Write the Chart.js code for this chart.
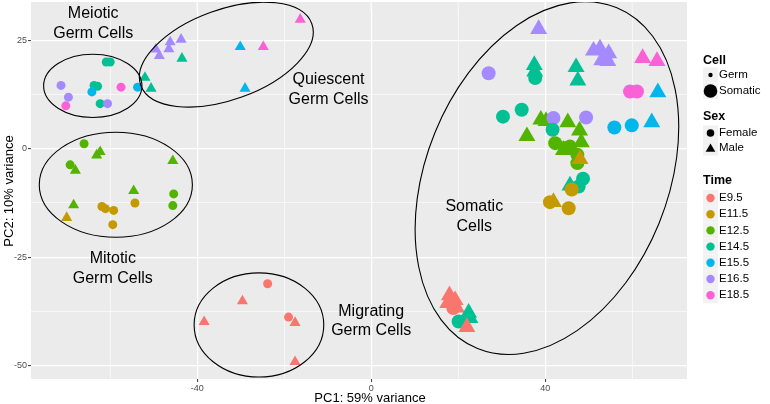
<!DOCTYPE html>
<html>
<head>
<meta charset="utf-8">
<script src="https://cdn.jsdelivr.net/npm/chart.js@4"></script>
<style>
  html, body { margin: 0; padding: 0; background: #fff; }
  #wrap { width: 770px; height: 404px; position: relative; }
</style>
</head>
<body>
<div id="wrap"><canvas id="chart"></canvas></div>
<script>
// PCA of germ / somatic samples.
const FONT = '"Liberation Sans", Arial, Helvetica, sans-serif';

const pc1 = [
  -71.3, -69.6, -70.2, -60.9, -60.0, -63.7, -62.9, -64.2, -62.3, -60.6, -57.5, -53.7,
  -49.5, -48.7, -46.2, -46.5, -43.7, -43.5, -52.0, -50.6, -30.1, -24.8, -16.3, -29.0,
  -66.0, -63.1, -62.3, -69.2, -68.0, -45.6, -54.6, -45.4, -45.6, -68.4,
  -70.0, -61.9, -61.1, -59.2, -54.3, -59.4,
  -23.8, -29.6, -38.4, -19.0, -17.5, -17.5,
  38.5, 51.1, 52.6, 54.6, 53.0, 54.4, 62.4, 65.7, 27.0, 37.5, 37.6, 37.7, 47.1, 47.5,
  59.5, 61.1, 65.9, 30.3, 34.6, 39.0, 40.2, 41.9, 35.8, 41.7, 45.2, 49.4, 47.9, 48.3,
  42.3, 44.2, 45.7, 44.6, 47.4, 47.4, 55.9, 59.9, 64.5, 48.7, 47.7, 45.7,
  46.1, 41.9, 41.1, 45.4, 48.0,
  18.0, 19.3, 17.6, 19.6, 18.9, 22.4, 22.7, 20.1, 22.0
];
const pc2 = [
  14.6, 11.9, 9.9, 20.0, 20.0, 14.6, 14.4, 13.1, 10.4, 10.4, 14.2, 14.2,
  22.9, 21.4, 24.6, 23.0, 25.2, 20.8, 16.4, 13.9, 23.5, 23.5, 29.8, 13.9,
  1.15, -1.5, -0.7, -3.7, -5.0, -2.8, -9.7, -10.4, -13.1, -13.0,
  -15.9, -13.3, -13.8, -14.2, -12.5, -17.5,
  -31.1, -35.1, -39.9, -38.8, -40.1, -49.1,
  27.6, 22.6, 23.1, 22.0, 20.4, 20.2, 20.9, 20.2, 17.4, 19.3, 17.8, 16.3, 18.8, 15.7,
  13.2, 13.2, 13.0, 7.4, 9.0, 6.7, 6.4, 7.1, 2.9, 4.4, 6.1, 7.2, 4.2, 1.5,
  1.3, -0.3, 0.5, 0.2, -1.4, -3.3, 4.9, 5.4, 6.1, -6.9, -8.7, -8.5,
  -9.4, -12.3, -12.3, -13.7, -2.4,
  -33.8, -34.9, -35.6, -36.6, -36.7, -37.8, -39.0, -39.8, -41.1
];
const time = [
  'E16.5', 'E16.5', 'E18.5', 'E14.5', 'E14.5', 'E14.5', 'E14.5', 'E15.5', 'E14.5', 'E16.5', 'E18.5', 'E15.5',
  'E16.5', 'E16.5', 'E16.5', 'E16.5', 'E16.5', 'E14.5', 'E14.5', 'E14.5', 'E15.5', 'E18.5', 'E18.5', 'E15.5',
  'E12.5', 'E12.5', 'E12.5', 'E12.5', 'E12.5', 'E12.5', 'E12.5', 'E12.5', 'E12.5', 'E12.5',
  'E11.5', 'E11.5', 'E11.5', 'E11.5', 'E11.5', 'E11.5',
  'E9.5', 'E9.5', 'E9.5', 'E9.5', 'E9.5', 'E9.5',
  'E16.5', 'E16.5', 'E16.5', 'E16.5', 'E16.5', 'E16.5', 'E18.5', 'E18.5', 'E16.5', 'E14.5', 'E14.5', 'E14.5', 'E14.5', 'E14.5',
  'E18.5', 'E18.5', 'E15.5', 'E14.5', 'E14.5', 'E12.5', 'E12.5', 'E16.5', 'E12.5', 'E14.5', 'E12.5', 'E16.5', 'E12.5', 'E12.5',
  'E12.5', 'E12.5', 'E12.5', 'E12.5', 'E12.5', 'E12.5', 'E15.5', 'E15.5', 'E15.5', 'E14.5', 'E14.5', 'E14.5',
  'E11.5', 'E11.5', 'E11.5', 'E11.5', 'E11.5',
  'E9.5', 'E9.5', 'E9.5', 'E9.5', 'E9.5', 'E14.5', 'E14.5', 'E14.5', 'E9.5'
];
const sex = [
  'F', 'F', 'F', 'F', 'F', 'F', 'F', 'F', 'F', 'F', 'F', 'F',
  'M', 'M', 'M', 'M', 'M', 'M', 'M', 'M', 'M', 'M', 'M', 'M',
  'F', 'M', 'M', 'F', 'M', 'M', 'M', 'F', 'F', 'M',
  'M', 'F', 'F', 'F', 'F', 'F',
  'F', 'M', 'M', 'F', 'M', 'M',
  'M', 'M', 'M', 'M', 'M', 'M', 'M', 'M', 'F', 'M', 'M', 'F', 'M', 'M',
  'F', 'F', 'M', 'F', 'F', 'M', 'M', 'F', 'M', 'F', 'M', 'F', 'M', 'M',
  'F', 'M', 'F', 'F', 'F', 'F', 'F', 'F', 'M', 'F', 'F', 'M',
  'F', 'M', 'F', 'F', 'M',
  'M', 'M', 'M', 'M', 'F', 'M', 'M', 'F', 'M'
];
// first 46 samples are germ cells, the rest somatic
const cell = pc1.map((_, i) => (i < 46 ? 'Germ' : 'Somatic'));

const timeLevels = ['E9.5', 'E11.5', 'E12.5', 'E14.5', 'E15.5', 'E16.5', 'E18.5'];
const xTicks = [-40, 0, 40];
const xMinor = [-60, -20, 20, 60];
const yTicks = [-50, -25, 0, 25];
const yMinor = [-37.5, -12.5, 12.5];

// cluster outlines (data units) and their labels
const groupNames = [['Meiotic', 'Germ Cells'], ['Quiescent', 'Germ Cells'], ['Mitotic', 'Germ Cells'], ['Migrating', 'Germ Cells'], ['Somatic', 'Cells']];
const ellCx = [-64.0, -33.3, -58.7, -25.8, 40.4];
const ellCy = [14.5, 21.7, -8.3, -40.6, -6.75];
const ellRx = [11.3, 20.9, 17.6, 14.9, 42.4];
const ellRy = [7.3, 10.4, 12.1, 12.0, 27.8];
const ellAngle = [0, 19.9, 0, 0, 67.9];
const labelX = [-63.9, -9.8, -59.4, 0, 23.7];
const labelY = [28.8, 13.7, -27.6, -39.7, -15.7];

const TIME_COLORS = {
  'E9.5':  '#F8766D',
  'E11.5': '#C49A00',
  'E12.5': '#53B400',
  'E14.5': '#00C094',
  'E15.5': '#00B6EB',
  'E16.5': '#A58AFF',
  'E18.5': '#FB61D7',
};
const RADIUS = { Germ: { F: 4.5, M: 6.4 }, Somatic: { F: 7, M: 9.8 } };
const PANEL_TOP = 2;         // grey panel starts here (px)
const Y_PX_PER_UNIT = 4.339; // vertical scale of the reference

const points = pc1.map((x, i) => ({ x, y: pc2[i] }));
const isMajor = (axisTicks, v) => axisTicks.includes(v);

function triangle(ctx, x, y, r) {
  ctx.beginPath();
  for (let k = 0; k < 3; k++) {
    const a = k * 2 * Math.PI / 3;
    const px = x + Math.sin(a) * r, py = y - Math.cos(a) * r;
    if (k === 0) ctx.moveTo(px, py); else ctx.lineTo(px, py);
  }
  ctx.closePath();
  ctx.fill();
}
function dot(ctx, x, y, r) {
  ctx.beginPath();
  ctx.arc(x, y, r, 0, Math.PI * 2);
  ctx.fill();
}

const panelPlugin = {
  id: 'panel',
  beforeDraw(chart) {
    const { ctx, chartArea: ca } = chart;
    const top = Math.min(PANEL_TOP, ca.top);
    ctx.save();
    ctx.fillStyle = '#EBEBEB';
    ctx.fillRect(ca.left, top, ca.right - ca.left, ca.bottom - top);
    // chart.js keeps a few px above the area; continue vertical grid lines up to the panel top
    ctx.strokeStyle = '#FFFFFF';
    [...xMinor, ...xTicks].forEach(v => {
      const x = chart.scales.x.getPixelForValue(v);
      ctx.lineWidth = isMajor(xTicks, v) ? 1.2 : 0.6;
      ctx.beginPath();
      ctx.moveTo(x, top);
      ctx.lineTo(x, ca.top + 1);
      ctx.stroke();
    });
    ctx.restore();
  },
  afterDatasetsDraw(chart) {
    const { ctx, chartArea: ca } = chart;
    const xs = chart.scales.x, ys = chart.scales.y;
    const sx = xs.getPixelForValue(1) - xs.getPixelForValue(0);
    const sy = ys.getPixelForValue(0) - ys.getPixelForValue(1);
    const top = Math.min(PANEL_TOP, ca.top);
    ctx.save();
    ctx.beginPath();
    ctx.rect(ca.left, top, ca.right - ca.left, ca.bottom - top);
    ctx.clip();
    ctx.strokeStyle = '#000';
    ctx.lineWidth = 1.1;
    ellCx.forEach((cx, i) => {
      ctx.save();
      ctx.translate(xs.getPixelForValue(cx), ys.getPixelForValue(ellCy[i]));
      ctx.scale(sx, -sy);
      ctx.rotate(ellAngle[i] * Math.PI / 180);
      ctx.beginPath();
      ctx.ellipse(0, 0, ellRx[i], ellRy[i], 0, 0, Math.PI * 2);
      ctx.restore();
      ctx.stroke();
    });
    ctx.fillStyle = '#000';
    ctx.font = '16px ' + FONT;
    ctx.textAlign = 'center';
    ctx.textBaseline = 'middle';
    groupNames.forEach((lines, i) => {
      const px = xs.getPixelForValue(labelX[i]);
      const py = ys.getPixelForValue(labelY[i]);
      ctx.fillText(lines[0], px, py - 9.8);
      ctx.fillText(lines[1], px, py + 9.8);
    });
    ctx.restore();
  },
  afterDraw(chart) {
    const ctx = chart.ctx;
    ctx.save();
    // axis titles
    ctx.fillStyle = '#000';
    ctx.font = '13px ' + FONT;
    ctx.textAlign = 'center';
    ctx.textBaseline = 'middle';
    ctx.fillText('PC1: 59% variance', 370, 398);
    ctx.save();
    ctx.translate(9, 191);
    ctx.rotate(-Math.PI / 2);
    ctx.fillText('PC2: 10% variance', 0, 0);
    ctx.restore();

    // legends
    const keyX = 703, keyW = 15, textX = 719, cxKey = keyX + keyW / 2;
    const title = (t, y) => {
      ctx.fillStyle = '#000';
      ctx.font = 'bold 12.5px ' + FONT;
      ctx.textAlign = 'left';
      ctx.fillText(t, keyX, y);
    };
    const row = (label, y, h, draw) => {
      ctx.fillStyle = '#F2F2F2';
      ctx.fillRect(keyX, y - h / 2, keyW, h);
      draw(y);
      ctx.fillStyle = '#000';
      ctx.font = '11.5px ' + FONT;
      ctx.textAlign = 'left';
      ctx.fillText(label, textX, y);
    };
    title('Cell', 61);
    row('Germ', 75, 15, y => { ctx.fillStyle = '#000'; dot(ctx, cxKey, y, 2.2); });
    row('Somatic', 91, 16, y => { ctx.fillStyle = '#000'; dot(ctx, cxKey, y, 6.8); });
    title('Sex', 117);
    row('Female', 133, 15, y => { ctx.fillStyle = '#000'; dot(ctx, cxKey, y, 3.8); });
    row('Male', 148, 15, y => { ctx.fillStyle = '#000'; triangle(ctx, cxKey, y + 1, 5.6); });
    title('Time', 181);
    timeLevels.forEach((t, i) => {
      row(t, 198 + i * 16.2, 16, y => { ctx.fillStyle = TIME_COLORS[t]; dot(ctx, cxKey, y, 4.2); });
    });
    ctx.restore();
  }
};

const chart = new Chart(document.getElementById('chart'), {
  type: 'scatter',
  data: {
    datasets: [{
      data: points,
      pointBackgroundColor: time.map(t => TIME_COLORS[t]),
      pointStyle: sex.map(s => (s === 'M' ? 'triangle' : 'circle')),
      pointRadius: sex.map((s, i) => RADIUS[cell[i]][s]),
      pointBorderWidth: 0,
      pointHoverRadius: sex.map((s, i) => RADIUS[cell[i]][s]),
    }]
  },
  options: {
    responsive: true,
    maintainAspectRatio: false,
    animation: false,
    events: [],
    layout: { padding: { left: 0, right: 83, top: PANEL_TOP, bottom: 0 } },
    plugins: { legend: { display: false }, tooltip: { enabled: false } },
    scales: {
      x: {
        type: 'linear',
        min: -78.2, max: 72.6,
        afterFit: s => { s.height = 25; s.paddingLeft = 0; s.paddingRight = 0; },
        afterBuildTicks: s => { s.ticks = [...xMinor, ...xTicks].sort((a, b) => a - b).map(v => ({ value: v })); },
        border: { display: false },
        grid: {
          color: '#FFFFFF',
          lineWidth: c => (isMajor(xTicks, c.tick.value) ? 1.2 : 0.6),
          tickLength: 3,
          tickColor: c => (isMajor(xTicks, c.tick.value) ? '#333333' : 'rgba(0,0,0,0)'),
          tickWidth: 1,
        },
        ticks: {
          autoSkip: false,
          maxRotation: 0,
          padding: 1,
          color: '#4D4D4D',
          font: { family: FONT, size: 9 },
          callback: v => (xTicks.includes(v) ? String(v) : ''),
        },
      },
      y: {
        type: 'linear',
        min: -53.07, max: 33.9,
        afterFit: s => { s.width = 31; s.paddingTop = 0; s.paddingBottom = 0; },
        afterBuildTicks: s => { s.ticks = [...yMinor, ...yTicks].sort((a, b) => a - b).map(v => ({ value: v })); },
        border: { display: false },
        grid: {
          color: '#FFFFFF',
          lineWidth: c => (isMajor(yTicks, c.tick.value) ? 1.2 : 0.6),
          tickLength: 3,
          tickColor: c => (isMajor(yTicks, c.tick.value) ? '#333333' : 'rgba(0,0,0,0)'),
          tickWidth: 1,
        },
        ticks: {
          autoSkip: false,
          padding: 1,
          color: '#4D4D4D',
          font: { family: FONT, size: 9 },
          callback: v => (yTicks.includes(v) ? String(v) : ''),
        },
      },
    },
  },
  plugins: [panelPlugin],
});

// keep the reference's vertical scale: the top value follows where chart.js put the plot area
const ca = chart.chartArea;
chart.options.scales.y.max = 25 + (40.3 - ca.top) / Y_PX_PER_UNIT;
chart.options.scales.y.min = -50 - (ca.bottom - 365.7) / Y_PX_PER_UNIT;
chart.update();
</script>
</body>
</html>
